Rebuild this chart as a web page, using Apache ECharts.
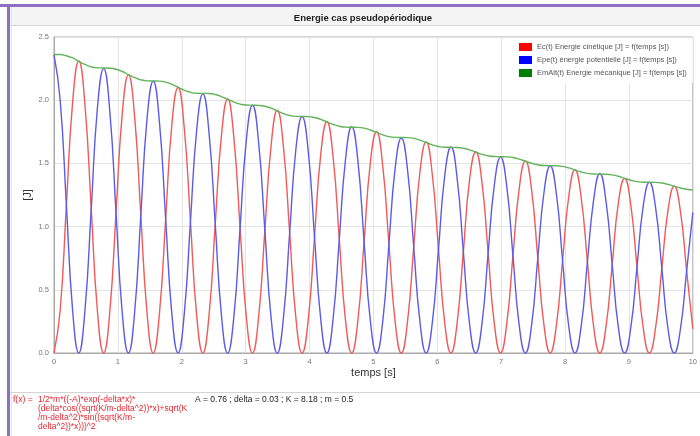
<!DOCTYPE html>
<html>
<head>
<meta charset="utf-8">
<script src="https://cdn.jsdelivr.net/npm/echarts@6.0.0/dist/echarts.min.js"></script>
<style>
  html, body { margin: 0; padding: 0; background: #fff; }
  #chart { width: 700px; height: 436px; }
</style>
</head>
<body>
<div id="chart"></div>
<script>
// temps [s] : 8 points par demi-periode
var times = [
    0, 0.097, 0.194, 0.291, 0.388, 0.485, 0.583, 0.680,
    0.777, 0.874, 0.971, 1.068, 1.165, 1.262, 1.359, 1.456,
    1.553, 1.650, 1.748, 1.845, 1.942, 2.039, 2.136, 2.233,
    2.330, 2.427, 2.524, 2.621, 2.718, 2.816, 2.913, 3.010,
    3.107, 3.204, 3.301, 3.398, 3.495, 3.592, 3.689, 3.786,
    3.883, 3.981, 4.078, 4.175, 4.272, 4.369, 4.466, 4.563,
    4.660, 4.757, 4.854, 4.951, 5.049, 5.146, 5.243, 5.340,
    5.437, 5.534, 5.631, 5.728, 5.825, 5.922, 6.019, 6.116,
    6.214, 6.311, 6.408, 6.505, 6.602, 6.699, 6.796, 6.893,
    6.990, 7.087, 7.184, 7.282, 7.379, 7.476, 7.573, 7.670,
    7.767, 7.864, 7.961, 8.058, 8.155, 8.252, 8.350, 8.447,
    8.544, 8.641, 8.738, 8.835, 8.932, 9.029, 9.126, 9.223,
    9.320, 9.417, 9.515, 9.612, 9.709, 9.806, 9.903, 10.000
];

// Ec(t) energie cinetique [J]
var ec = [
    0, 0.34, 1.17, 1.98, 2.31, 1.96, 1.14, 0.33,
    0, 0.33, 1.11, 1.89, 2.20, 1.87, 1.09, 0.32,
    0, 0.31, 1.06, 1.81, 2.10, 1.78, 1.04, 0.30,
    0, 0.30, 1.02, 1.72, 2.01, 1.70, 0.99, 0.29,
    0, 0.29, 0.97, 1.64, 1.92, 1.63, 0.95, 0.28,
    0, 0.27, 0.92, 1.57, 1.83, 1.55, 0.90, 0.26,
    0, 0.26, 0.88, 1.50, 1.75, 1.48, 0.86, 0.25,
    0, 0.25, 0.84, 1.43, 1.67, 1.41, 0.82, 0.24,
    0, 0.24, 0.80, 1.37, 1.59, 1.35, 0.79, 0.23,
    0, 0.23, 0.77, 1.30, 1.52, 1.29, 0.75, 0.22,
    0, 0.22, 0.73, 1.24, 1.45, 1.23, 0.72, 0.21,
    0, 0.21, 0.70, 1.19, 1.38, 1.17, 0.68, 0.20,
    0, 0.20, 0.67, 1.13, 1.32, 1.12, 0.65, 0.19
];

// Epe(t) energie potentielle [J]
var ep = [
    2.36, 2.00, 1.17, 0.34, 0, 0.34, 1.14, 1.94,
    2.25, 1.91, 1.11, 0.32, 0, 0.32, 1.09, 1.85,
    2.15, 1.83, 1.06, 0.31, 0, 0.31, 1.04, 1.76,
    2.05, 1.74, 1.02, 0.30, 0, 0.29, 0.99, 1.68,
    1.96, 1.66, 0.97, 0.28, 0, 0.28, 0.95, 1.61,
    1.87, 1.59, 0.92, 0.27, 0, 0.27, 0.90, 1.53,
    1.79, 1.52, 0.88, 0.26, 0, 0.25, 0.86, 1.46,
    1.70, 1.45, 0.84, 0.25, 0, 0.24, 0.82, 1.40,
    1.63, 1.38, 0.80, 0.23, 0, 0.23, 0.79, 1.33,
    1.55, 1.32, 0.77, 0.22, 0, 0.22, 0.75, 1.27,
    1.48, 1.26, 0.73, 0.21, 0, 0.21, 0.72, 1.21,
    1.42, 1.20, 0.70, 0.20, 0, 0.20, 0.68, 1.16,
    1.35, 1.15, 0.67, 0.19, 0, 0.19, 0.65, 1.11
];

// EmAlt(t) energie mecanique [J]
var em = [
    2.362, 2.361, 2.352, 2.334, 2.308, 2.283, 2.264, 2.256,
    2.255, 2.253, 2.245, 2.227, 2.203, 2.179, 2.161, 2.153,
    2.152, 2.151, 2.143, 2.126, 2.103, 2.079, 2.063, 2.055,
    2.054, 2.053, 2.045, 2.029, 2.007, 1.985, 1.969, 1.962,
    1.961, 1.959, 1.952, 1.937, 1.916, 1.894, 1.879, 1.872,
    1.871, 1.870, 1.863, 1.849, 1.828, 1.808, 1.794, 1.787,
    1.786, 1.785, 1.779, 1.764, 1.745, 1.726, 1.712, 1.706,
    1.705, 1.704, 1.698, 1.684, 1.666, 1.647, 1.634, 1.628,
    1.627, 1.626, 1.620, 1.607, 1.590, 1.572, 1.560, 1.554,
    1.553, 1.552, 1.547, 1.534, 1.517, 1.501, 1.489, 1.483,
    1.482, 1.482, 1.476, 1.464, 1.448, 1.432, 1.421, 1.416,
    1.415, 1.414, 1.409, 1.398, 1.382, 1.367, 1.356, 1.351,
    1.351, 1.350, 1.345, 1.334, 1.319, 1.305, 1.295, 1.290
];

var seriesNames = [
    'Ec(t) Energie cinétique [J] = f(temps [s])',
    'Epe(t) énergie potentielle [J] = f(temps [s])',
    'EmAlt(t) Energie mécanique [J] = f(temps [s])'
];

var formulaLines = [
    '1/2*m*((-A)*exp(-delta*x)*',
    '(delta*cos((sqrt(K/m-delta^2))*x)+sqrt(K',
    '/m-delta^2)*sin((sqrt(K/m-',
    'delta^2))*x)))^2'
];
var paramText = 'A = 0.76 ; delta = 0.03 ; K = 8.18 ; m = 0.5';

var FONT = '"Liberation Sans", Arial, sans-serif';

function pairs(values) {
    return times.map(function (t, i) { return [t, values[i]]; });
}

var chart = echarts.init(document.getElementById('chart'));

var graphics = [
    { type: 'rect', z: -10, shape: { x: 10, y: 7, width: 690, height: 18 }, style: { fill: '#f4f4f4' } },
    { type: 'line', z: -5, shape: { x1: 10, y1: 25.5, x2: 700, y2: 25.5 }, style: { stroke: '#d6d6d6', lineWidth: 1 } },
    { type: 'line', z: -5, shape: { x1: 11.5, y1: 7, x2: 11.5, y2: 436 }, style: { stroke: '#e2e2e2', lineWidth: 1 } },
    { type: 'line', z: -5, shape: { x1: 10, y1: 392.5, x2: 700, y2: 392.5 }, style: { stroke: '#d4d4d4', lineWidth: 1 } },
    { type: 'rect', shape: { x: 0, y: 4, width: 700, height: 3 }, style: { fill: '#8c6fc2' } },
    { type: 'rect', shape: { x: 7, y: 4, width: 3, height: 432 }, style: { fill: '#8c6fc2' } },
    {
        type: 'text', x: 13, y: 400,
        style: { text: 'f(x) =', fill: '#e8262e', fontSize: 8.5, fontFamily: FONT, verticalAlign: 'middle' }
    },
    {
        type: 'text', x: 195, y: 400,
        style: { text: paramText, fill: '#222', fontSize: 8.5, fontFamily: FONT, verticalAlign: 'middle' }
    }
];
formulaLines.forEach(function (line, i) {
    graphics.push({
        type: 'text', x: 38, y: 400 + i * 9,
        style: { text: line, fill: '#e8262e', fontSize: 8.5, fontFamily: FONT, verticalAlign: 'middle' }
    });
});

var options = {
    animation: false,
    backgroundColor: '#fff',
    textStyle: { fontFamily: FONT },
    title: {
        text: 'Energie cas pseudopériodique',
        left: 358,
        top: 8,
        textAlign: 'center',
        textStyle: { fontSize: 9.5, fontWeight: 'bold', color: '#222', fontFamily: FONT }
    },
    legend: {
        orient: 'vertical',
        left: 512,
        top: 38,
        padding: [5, 6, 6, 7],
        backgroundColor: '#fff',
        icon: 'rect',
        itemWidth: 13,
        itemHeight: 8,
        itemGap: 5,
        textStyle: { fontSize: 7.5, color: '#555', fontFamily: FONT },
        data: [
            { name: seriesNames[0], itemStyle: { color: '#ff0000' } },
            { name: seriesNames[1], itemStyle: { color: '#0000ff' } },
            { name: seriesNames[2], itemStyle: { color: '#008000' } }
        ]
    },
    grid: {
        left: 54,
        right: 3,
        top: 37,
        bottom: 83,
        show: true,
        borderColor: '#a8a8a8',
        borderWidth: 1
    },
    xAxis: {
        type: 'value',
        min: 0,
        max: 10,
        interval: 1,
        name: 'temps [s]',
        nameLocation: 'middle',
        nameGap: 14,
        nameMoveOverlap: false,
        nameTextStyle: { fontSize: 11, color: '#333' },
        axisLine: { show: true, lineStyle: { color: '#a8a8a8' } },
        axisTick: { show: false },
        axisLabel: { fontSize: 7.5, color: '#777', margin: 5 },
        splitLine: { show: true, lineStyle: { color: '#e4e4e4' } }
    },
    yAxis: {
        type: 'value',
        min: 0,
        max: 2.5,
        interval: 0.5,
        name: '[J]',
        nameLocation: 'middle',
        nameGap: 21,
        nameMoveOverlap: false,
        nameTextStyle: { fontSize: 11, color: '#333' },
        axisLine: { show: true, lineStyle: { color: '#a8a8a8' } },
        axisTick: { show: false },
        axisLabel: {
            fontSize: 7.5, color: '#777', margin: 5,
            formatter: function (v) { return v.toFixed(1); }
        },
        splitLine: { show: true, lineStyle: { color: '#e4e4e4' } }
    },
    series: [
        {
            name: seriesNames[0], type: 'line', data: pairs(ec),
            smooth: 0.5, showSymbol: false, symbol: 'none',
            itemStyle: { color: '#ff0000' },
            lineStyle: { color: '#f05a5a', width: 1.4 }
        },
        {
            name: seriesNames[1], type: 'line', data: pairs(ep),
            smooth: 0.5, showSymbol: false, symbol: 'none',
            itemStyle: { color: '#0000ff' },
            lineStyle: { color: '#5b5be6', width: 1.4 }
        },
        {
            name: seriesNames[2], type: 'line', data: pairs(em),
            smooth: 0.5, showSymbol: false, symbol: 'none',
            itemStyle: { color: '#008000' },
            lineStyle: { color: '#62b35a', width: 1.4 }
        }
    ],
    graphic: graphics
};

chart.setOption(options);
window.onresize = function () {
    chart.resize();
};
</script>
</body>
</html>
